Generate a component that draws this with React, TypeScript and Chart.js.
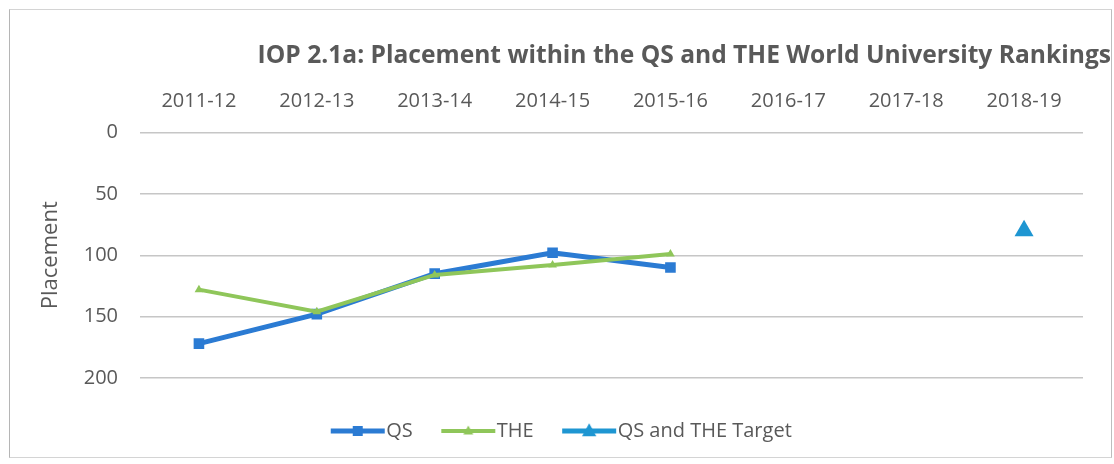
import React, { useEffect, useRef } from "react";
import { Chart, registerables } from "chart.js";

Chart.register(...registerables);

const categories = ["2011-12", "2012-13", "2013-14", "2014-15", "2015-16", "2016-17", "2017-18", "2018-19"];
const qsValues = [172, 148, 115, 98, 110, null, null, null];
const theValues = [128, 146, 116, 108, 99, null, null, null];
const targetValues = [null, null, null, null, null, null, null, 80];
const seriesNames = ["QS", "THE", "QS and THE Target"];
const titleText = "IOP 2.1a: Placement within the QS and THE World University Rankings";
const yAxisTitle = "Placement";

const QS_COLOR = "#2B7BD3";
const THE_COLOR = "#8FC65A";
const TARGET_COLOR = "#1E96D2";
const TEXT_COLOR = "#595959";
const FONT = "'Open Sans', 'Noto Sans', sans-serif";

function makeLegendImage(color: string, lineWidth: number, marker: "rect" | "triangle", size: number) {
  const c = document.createElement("canvas");
  c.width = 80;
  c.height = 20;
  const ctx = c.getContext("2d")!;
  ctx.strokeStyle = color;
  ctx.fillStyle = color;
  ctx.lineWidth = lineWidth;
  ctx.beginPath();
  ctx.moveTo(18, 10);
  ctx.lineTo(72, 10);
  ctx.stroke();
  const cx = 45;
  const cy = 10;
  ctx.beginPath();
  if (marker === "rect") {
    ctx.rect(cx - size / 2, cy - size / 2, size, size);
  } else {
    ctx.moveTo(cx, cy - size * 0.6);
    ctx.lineTo(cx + size * 0.55, cy + size * 0.4);
    ctx.lineTo(cx - size * 0.55, cy + size * 0.4);
    ctx.closePath();
  }
  ctx.fill();
  return c;
}

export default function App() {
  const canvasRef = useRef<HTMLCanvasElement | null>(null);

  useEffect(() => {
    if (!canvasRef.current) return;
    const legendImages = [
      makeLegendImage(QS_COLOR, 5, "rect", 10),
      makeLegendImage(THE_COLOR, 4, "triangle", 9),
      makeLegendImage(TARGET_COLOR, 5, "triangle", 13),
    ];
    const chart = new Chart(canvasRef.current, {
      type: "line",
      data: {
        labels: categories,
        datasets: [
          {
            label: seriesNames[0],
            data: qsValues,
            borderColor: QS_COLOR,
            backgroundColor: QS_COLOR,
            borderWidth: 5,
            pointStyle: "rect",
            pointRadius: 7.5,
            pointBorderWidth: 0,
            order: 2,
            yAxisID: "y",
          },
          {
            label: seriesNames[1],
            data: theValues,
            borderColor: THE_COLOR,
            backgroundColor: THE_COLOR,
            borderWidth: 4,
            pointStyle: "triangle",
            pointRadius: 5,
            pointBorderWidth: 0,
            order: 1,
            yAxisID: "y",
          },
          {
            label: seriesNames[2],
            data: targetValues,
            borderColor: TARGET_COLOR,
            backgroundColor: TARGET_COLOR,
            borderWidth: 5,
            pointStyle: "triangle",
            pointRadius: 11,
            pointBorderWidth: 0,
            order: 0,
            yAxisID: "y",
          },
        ],
      },
      options: {
        animation: false,
        responsive: false,
        maintainAspectRatio: false,
        layout: { padding: { top: 0, bottom: 6, left: 0, right: 0 } },
        plugins: {
          tooltip: { enabled: false },
          title: {
            display: true,
            text: titleText,
            align: "end",
            color: TEXT_COLOR,
            font: { family: FONT, size: 24.6, weight: "bold" },
            padding: { top: 31, bottom: 0 },
          },
          legend: {
            position: "bottom",
            labels: {
              usePointStyle: true,
              pointStyleWidth: 47,
              boxHeight: 20,
              padding: 27,
              color: TEXT_COLOR,
              font: { family: FONT, size: 20 },
              sort: (a: any, b: any) => a.datasetIndex - b.datasetIndex,
              generateLabels: (ch: any) => {
                const items = Chart.defaults.plugins.legend.labels.generateLabels(ch);
                items.forEach((it: any) => {
                  it.pointStyle = legendImages[it.datasetIndex];
                });
                return items;
              },
            },
          },
        },
        scales: {
          x: {
            position: "top",
            offset: true,
            grid: { display: false },
            border: { display: false },
            ticks: {
              color: TEXT_COLOR,
              font: { family: FONT, size: 20 },
              padding: 11,
              maxRotation: 0,
              autoSkip: false,
            },
            afterFit: (s: any) => {
              s.height = 62;
            },
          },
          xBottomGap: {
            type: "category",
            position: "bottom",
            display: true,
            grid: { display: false, drawTicks: false },
            border: { display: false },
            ticks: { display: false },
            afterFit: (s: any) => {
              s.height = 16;
            },
          },
          y: {
            position: "left",
            reverse: true,
            min: 0,
            max: 200,
            grid: { color: "#c6c6c6", lineWidth: 1.5, drawTicks: false },
            border: { display: false },
            ticks: {
              stepSize: 50,
              color: TEXT_COLOR,
              font: { family: FONT, size: 20 },
              padding: 22,
            },
            title: {
              display: true,
              text: yAxisTitle,
              color: TEXT_COLOR,
              font: { family: FONT, size: 22 },
              padding: { top: 28, bottom: 0 },
            },
            afterFit: (s: any) => {
              s.width = 130;
            },
          },
          yRight: {
            position: "right",
            display: true,
            grid: { display: false, drawTicks: false },
            border: { display: false },
            ticks: { display: false },
            afterFit: (s: any) => {
              s.width = 28;
            },
          },
        },
      },
    } as any);
    return () => chart.destroy();
  }, []);

  return (
    <div
      style={{
        position: "fixed",
        left: 0,
        top: 0,
        width: 1114,
        height: 464,
        background: "#ffffff",
      }}
    >
      <div
        style={{
          position: "absolute",
          left: 9,
          top: 9,
          width: 1101,
          height: 447,
          border: "1px solid #d4d4d4",
          borderRightColor: "#bdbdbd",
          borderLeftColor: "#b5b5b5",
          background: "#ffffff",
        }}
      >
        <canvas ref={canvasRef} width={1101} height={447} style={{ display: "block" }} />
      </div>
    </div>
  );
}
